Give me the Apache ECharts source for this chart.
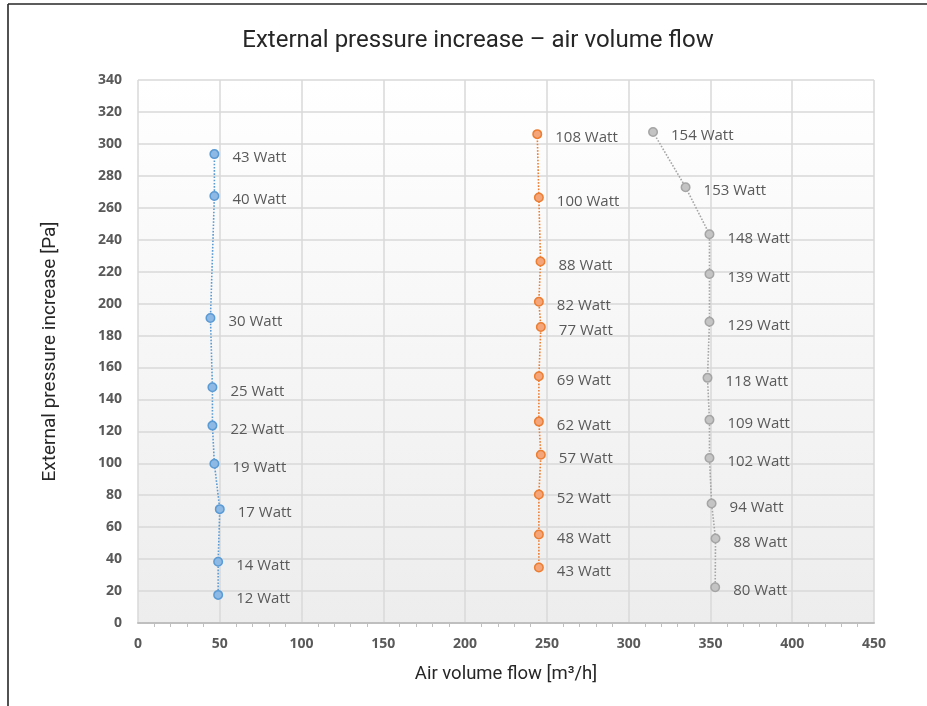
<!DOCTYPE html>
<html>
<head>
<meta charset="utf-8">
<script src="https://cdn.jsdelivr.net/npm/echarts@6/dist/echarts.min.js"></script>
<style>
html,body{margin:0;padding:0;background:#fff;}
#c{width:927px;height:706px;}
</style>
</head>
<body>
<div id="c"></div>
<script>
const titleText = 'External pressure increase – air volume flow';
const xName = 'Air volume flow [m³/h]';
const yName = 'External pressure increase [Pa]';

const blueFlow  = [46.7, 46.7, 44.3, 45.5, 45.5, 46.7, 50.0, 49.0, 49.0];
const bluePress = [293.6, 267.4, 191.0, 147.6, 123.6, 99.7, 71.3, 38.3, 17.6];
const blueWatt  = [43, 40, 30, 25, 22, 19, 17, 14, 12];

const orangeFlow  = [244.1, 245.1, 246.1, 245.1, 246.3, 245.1, 245.1, 246.3, 245.1, 245.1, 245.1];
const orangePress = [306.1, 266.4, 226.3, 201.2, 185.3, 154.5, 126.1, 105.4, 80.5, 55.4, 34.7];
const orangeWatt  = [108, 100, 88, 82, 77, 69, 62, 57, 52, 48, 43];

const grayFlow  = [314.9, 334.8, 349.4, 349.4, 349.4, 348.2, 349.4, 349.4, 350.7, 353.1, 352.9];
const grayPress = [307.4, 272.9, 243.4, 218.5, 188.6, 153.5, 127.2, 103.3, 74.8, 52.9, 22.4];
const grayWatt  = [154, 153, 148, 139, 129, 118, 109, 102, 94, 88, 80];

function pts(xs, ys, ws){ return xs.map((x,i)=>[x, ys[i], ws[i]]); }

function mkSeries(name, xs, ys, ws, line, fill){
  return {
    name: name,
    type: 'line',
    data: pts(xs, ys, ws),
    symbol: 'circle',
    symbolSize: 8.5,
    lineStyle: {type: 'dotted', width: 1.6, color: line},
    itemStyle: {color: fill, borderColor: line, borderWidth: 1.5},
    label: {
      show: true, position: 'right', distance: 13, offset: [0, 4],
      formatter: p => p.value[2] + ' Watt',
      color: '#595959', fontSize: 15, fontFamily: 'Open Sans'
    },
    emphasis: {disabled: true},
    animation: false,
    z: 3
  };
}

const chart = echarts.init(document.getElementById('c'), null, {renderer: 'canvas'});
chart.setOption({
  backgroundColor: '#ffffff',
  animation: false,
  title: {
    text: titleText, left: 473, top: 24, textAlign: 'center',
    textStyle: {fontFamily: 'Roboto, sans-serif', fontWeight: 'normal', fontSize: 24, color: '#262626'}
  },
  graphic: [
    {type: 'line', shape: {x1: 8, y1: 4, x2: 927, y2: 4}, style: {stroke: '#262626', lineWidth: 1.6}, silent: true},
    {type: 'line', shape: {x1: 8, y1: 4, x2: 8, y2: 706}, style: {stroke: '#262626', lineWidth: 1.6}, silent: true}
  ],
  grid: {
    left: 138, right: 53, top: 80, bottom: 83,
    show: true, borderWidth: 0,
    backgroundColor: new echarts.graphic.LinearGradient(0, 0, 0, 1, [
      {offset: 0, color: '#ffffff'}, {offset: 1, color: '#ededed'}
    ])
  },
  xAxis: {
    type: 'value', min: 0, max: 450, interval: 50,
    name: xName, nameLocation: 'middle', nameGap: 42,
    nameTextStyle: {fontFamily: 'Roboto, sans-serif', fontSize: 18.5, color: '#262626'},
    axisLine: {show: true, lineStyle: {color: '#bfbfbf', width: 2}},
    axisTick: {show: false},
    minorTick: {show: true, splitNumber: 5, length: 4, lineStyle: {color: '#bfbfbf', width: 1}},
    axisLabel: {fontFamily: 'Open Sans', fontWeight: 'bold', fontSize: 14, color: '#595959', margin: 14},
    splitLine: {show: true, lineStyle: {color: '#d9d9d9', width: 1.5}}
  },
  yAxis: {
    type: 'value', min: 0, max: 340, interval: 20,
    name: yName, nameLocation: 'middle', nameGap: 78, nameRotate: 90,
    nameTextStyle: {fontFamily: 'Roboto, sans-serif', fontSize: 19, color: '#262626'},
    axisLine: {show: false},
    axisTick: {show: false},
    axisLabel: {fontFamily: 'Open Sans', fontWeight: 'bold', fontSize: 14, color: '#595959', margin: 16},
    splitLine: {show: true, lineStyle: {color: '#d9d9d9', width: 1.5}}
  },
  series: [
    mkSeries('blue', blueFlow, bluePress, blueWatt, '#5b9bd5', '#8db9e4'),
    mkSeries('orange', orangeFlow, orangePress, orangeWatt, '#ed7d31', '#f4a67a'),
    mkSeries('gray', grayFlow, grayPress, grayWatt, '#a5a5a5', '#c4c4c4')
  ]
});
</script>
</body>
</html>
